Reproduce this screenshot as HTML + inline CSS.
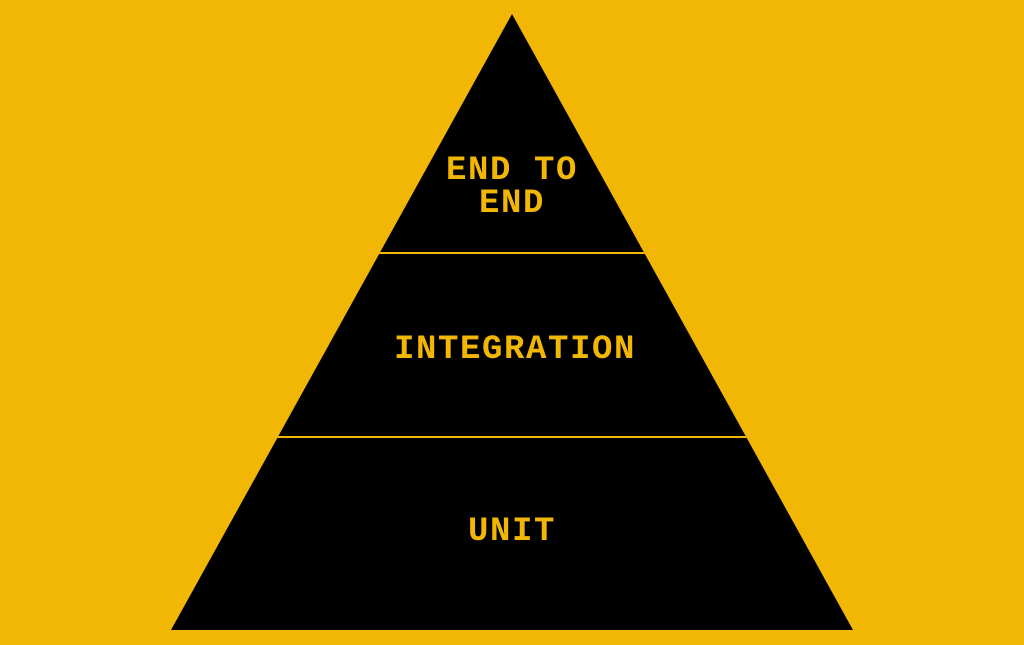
<!DOCTYPE html>
<html><head><meta charset="utf-8"><style>
html,body{margin:0;padding:0;background:#F2B705;width:1024px;height:645px;overflow:hidden}
svg{display:block}
text{font-family:"Liberation Mono",monospace;font-weight:bold;font-size:34px;fill:#F2B705;text-anchor:middle;letter-spacing:1.6px}
</style></head><body>
<svg width="1024" height="645" viewBox="0 0 1024 645">
<rect width="1024" height="645" fill="#F2B705"/>
<polygon points="512,14 853,630 171,630" fill="#000"/>
<line x1="300" y1="253" x2="724" y2="253" stroke="#F2B705" stroke-width="2"/>
<line x1="200" y1="437" x2="824" y2="437" stroke="#F2B705" stroke-width="2"/>
<text x="512" y="179">END TO</text>
<text x="512" y="212">END</text>
<text x="515" y="358">INTEGRATION</text>
<text x="512" y="540">UNIT</text>
</svg>
</body></html>
